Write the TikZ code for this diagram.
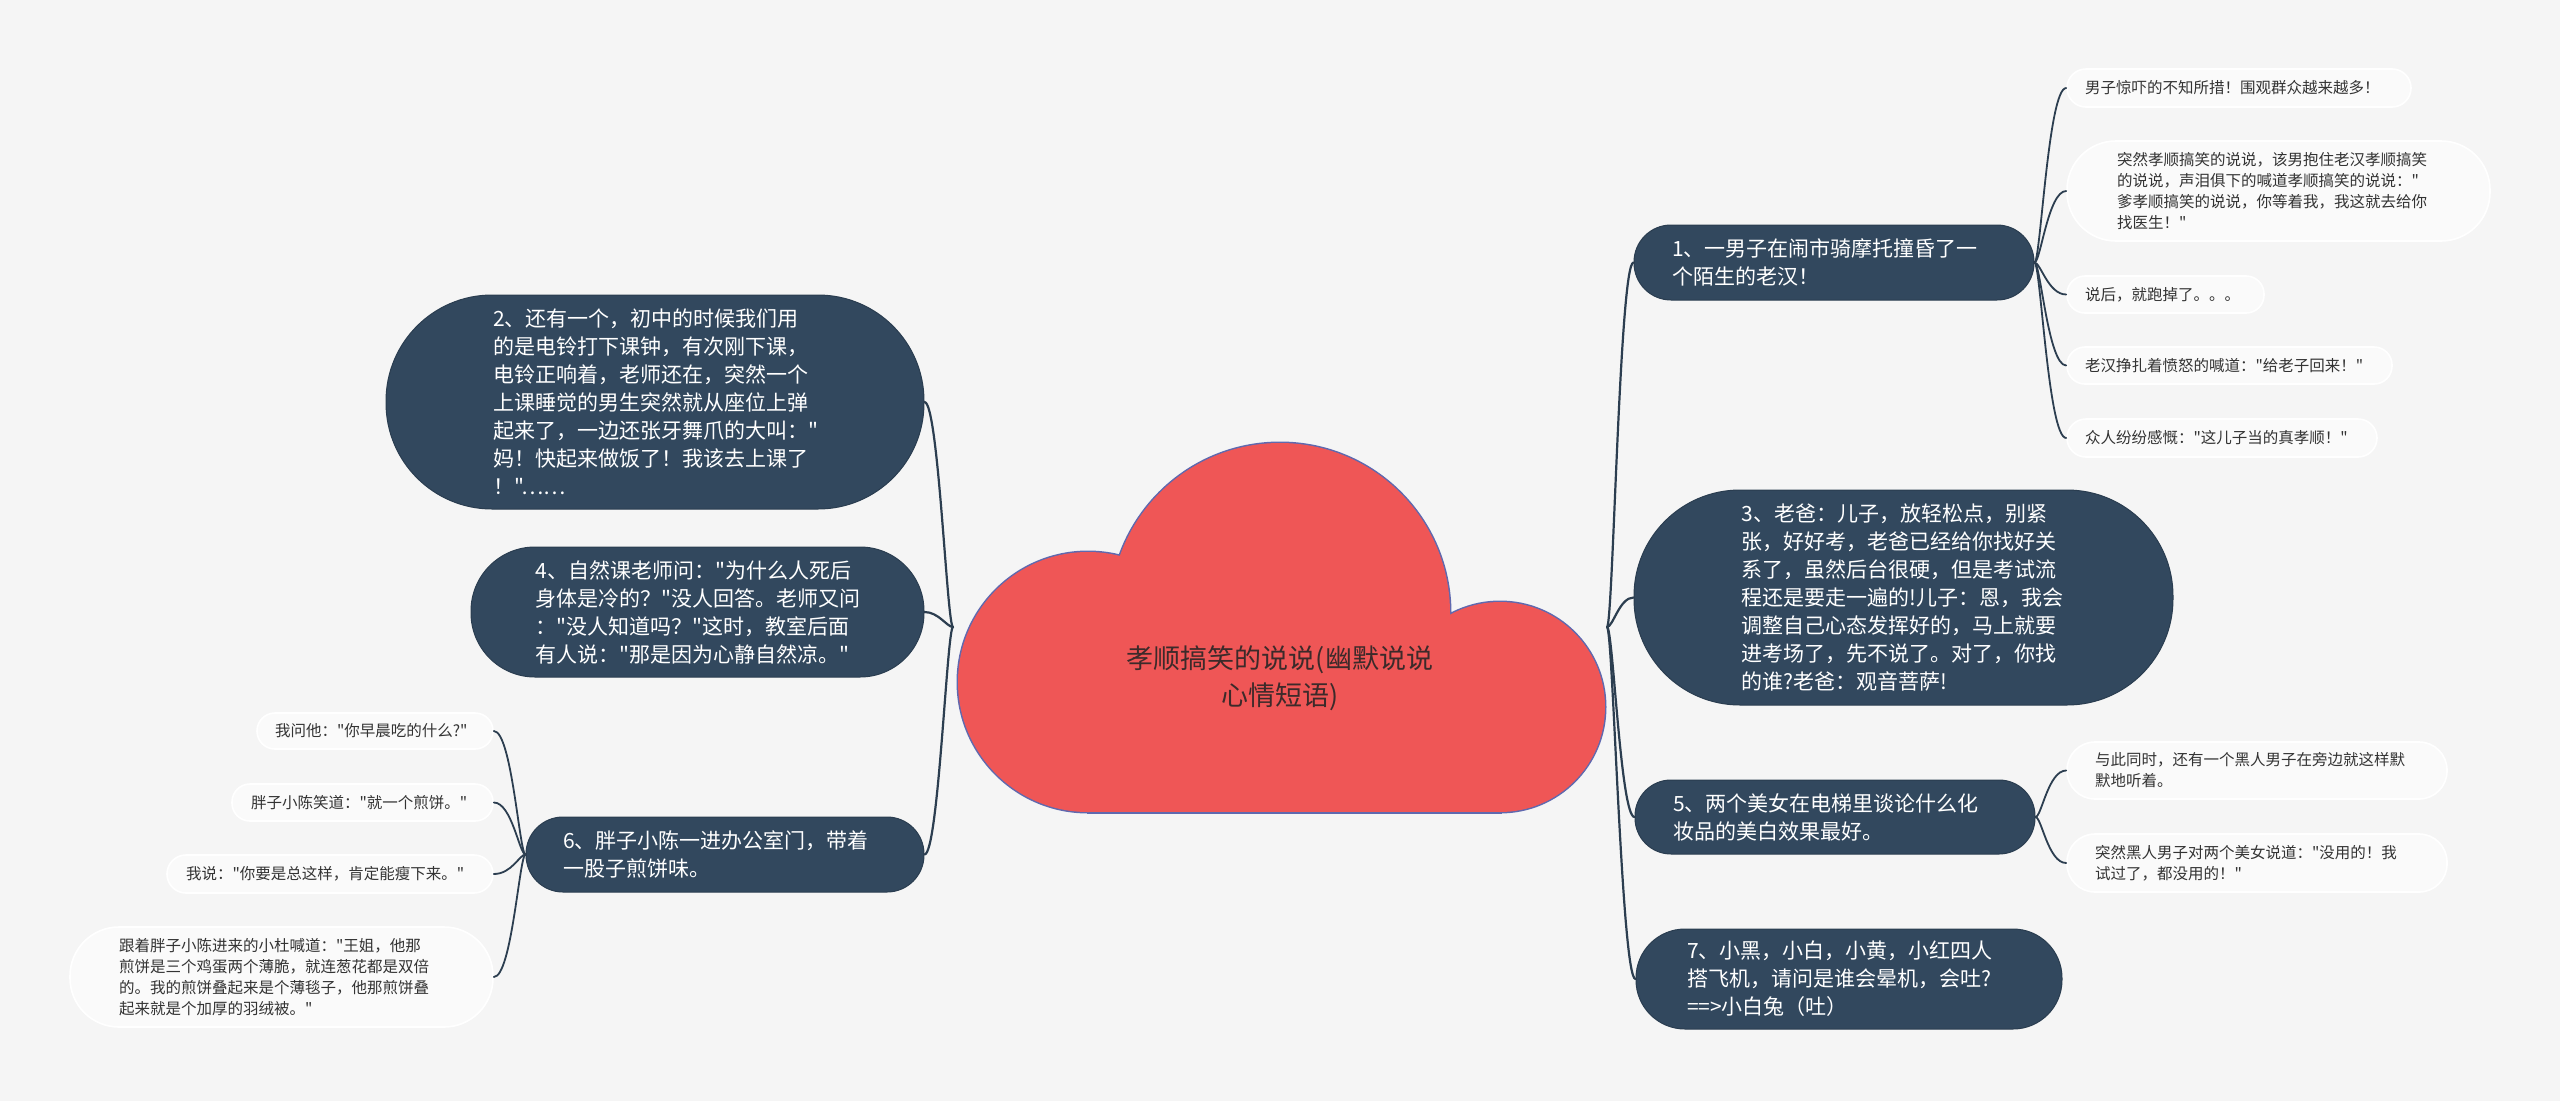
\documentclass[tikz,border=0pt]{standalone}
\usepackage{fontspec}
\newfontfamily\cjkfont{Noto Sans CJK SC}
\usetikzlibrary{calc}
\definecolor{bg}{RGB}{245,245,245}
\definecolor{nodefill}{RGB}{50,72,94}
\definecolor{cloudfill}{RGB}{239,86,86}
\definecolor{cloudline}{RGB}{95,105,175}
\definecolor{leaftext}{RGB}{51,51,51}
\definecolor{roottext}{RGB}{60,42,42}
\definecolor{conncol}{RGB}{44,62,80}
\begin{document}
\begin{tikzpicture}[x=1pt,y=-1pt,
  mainbox/.style={fill=nodefill, draw=nodefill!85!black, line width=1pt, text=white,
    font=\cjkfont\fontsize{21pt}{28pt}\selectfont, align=left, inner sep=0pt, text width=324pt},
  leafbox/.style={fill=bg!50!white, draw=white, line width=1.6pt, text=leaftext,
    font=\cjkfont\fontsize{15.5pt}{21pt}\selectfont, align=left, inner sep=0pt},
  conn/.style={draw=conncol, line width=2.2pt, line cap=round},
  leafconn/.style={draw=conncol, line width=1.8pt, line cap=round},
]
\useasboundingbox (0,0) rectangle (2560,1101);
\fill[bg] (0,0) rectangle (2560,1101);

% cloud (central topic)
\path[draw=cloudline, fill=cloudline, line width=3pt] (1088,682) circle[radius=130];
\path[draw=cloudline, fill=cloudline, line width=3pt] (1280,613) circle[radius=170];
\path[draw=cloudline, fill=cloudline, line width=3pt] (1500,707) circle[radius=105];
\path[draw=cloudline, fill=cloudline, line width=3pt] (1088,682) rectangle (1500,812);
\fill[cloudfill] (1088,682) circle[radius=130];
\fill[cloudfill] (1280,613) circle[radius=170];
\fill[cloudfill] (1500,707) circle[radius=105];
\fill[cloudfill] (1088,682) rectangle (1500,812);
\node[font=\cjkfont\fontsize{27pt}{37pt}\selectfont, text=roottext, align=center] (root) at (1280,678)
  {孝顺搞笑的说说(幽默说说\\心情短语)};

\coordinate (jr) at (1607,627);
\coordinate (jl) at (953,627);

% right main nodes
\node[mainbox, minimum width=400pt, minimum height=75pt, rounded corners=37pt] (n1) at (1834,262.5)
  {1、一男子在闹市骑摩托撞昏了一\\个陌生的老汉！};
\node[mainbox, minimum width=539pt, minimum height=215pt, rounded corners=106pt] (n3) at (1903.5,597.5)
  {3、老爸：儿子，放轻松点，别紧\\张，好好考，老爸已经给你找好关\\系了，虽然后台很硬，但是考试流\\程还是要走一遍的!儿子：恩，我会\\调整自己心态发挥好的，马上就要\\进考场了，先不说了。对了，你找\\的谁?老爸：观音菩萨!};
\node[mainbox, minimum width=400pt, minimum height=74pt, rounded corners=36pt] (n5) at (1835,817)
  {5、两个美女在电梯里谈论什么化\\妆品的美白效果最好。};
\node[mainbox, minimum width=426pt, minimum height=100pt, rounded corners=49pt] (n7) at (1849,979)
  {7、小黑，小白，小黄，小红四人\\搭飞机，请问是谁会晕机，会吐?\\==>小白兔（吐）};

% left main nodes
\node[mainbox, minimum width=538pt, minimum height=214pt, rounded corners=106pt] (n2) at (655,402)
  {2、还有一个，初中的时候我们用\\的是电铃打下课钟，有次刚下课，\\电铃正响着，老师还在，突然一个\\上课睡觉的男生突然就从座位上弹\\起来了，一边还张牙舞爪的大叫："\\妈！快起来做饭了！我该去上课了\\！"……};
\node[mainbox, minimum width=453pt, minimum height=130pt, rounded corners=64pt] (n4) at (697.5,612)
  {4、自然课老师问："为什么人死后\\身体是冷的？"没人回答。老师又问\\："没人知道吗？"这时，教室后面\\有人说："那是因为心静自然凉。"};
\node[mainbox, minimum width=398pt, minimum height=75pt, rounded corners=37pt] (n6) at (725,854.5)
  {6、胖子小陈一进办公室门，带着\\一股子煎饼味。};

% leaves of n1
\node[leafbox, minimum width=344pt, minimum height=38pt, rounded corners=19pt, text width=308pt] (l1a) at (2239,88)
  {男子惊吓的不知所措！围观群众越来越多！};
\node[leafbox, minimum width=423pt, minimum height=100pt, rounded corners=49pt, text width=323pt] (l1b) at (2278.5,191)
  {突然孝顺搞笑的说说，该男抱住老汉孝顺搞笑\\的说说，声泪俱下的喊道孝顺搞笑的说说："\\爹孝顺搞笑的说说，你等着我，我这就去给你\\找医生！"};
\node[leafbox, minimum width=197pt, minimum height=37pt, rounded corners=18pt, text width=161pt] (l1c) at (2165.5,294.5)
  {说后，就跑掉了。。。};
\node[leafbox, minimum width=325pt, minimum height=37pt, rounded corners=18pt, text width=289pt] (l1d) at (2229.5,365.5)
  {老汉挣扎着愤怒的喊道："给老子回来！"};
\node[leafbox, minimum width=310pt, minimum height=38pt, rounded corners=19pt, text width=274pt] (l1e) at (2222,438)
  {众人纷纷感慨："这儿子当的真孝顺！"};

% leaves of n5
\node[leafbox, minimum width=380pt, minimum height=57pt, rounded corners=28pt, text width=324pt] (l5a) at (2257,770.5)
  {与此同时，还有一个黑人男子在旁边就这样默\\默地听着。};
\node[leafbox, minimum width=380pt, minimum height=58pt, rounded corners=28pt, text width=324pt] (l5b) at (2257,863)
  {突然黑人男子对两个美女说道："没用的！我\\试过了，都没用的！"};

% leaves of n6
\node[leafbox, minimum width=236pt, minimum height=36pt, rounded corners=18pt, text width=200pt] (l6a) at (375,731)
  {我问他："你早晨吃的什么?"};
\node[leafbox, minimum width=261pt, minimum height=37pt, rounded corners=18pt, text width=223pt] (l6b) at (362.5,802.5)
  {胖子小陈笑道："就一个煎饼。"};
\node[leafbox, minimum width=326pt, minimum height=38pt, rounded corners=19pt, text width=288pt] (l6c) at (330,874)
  {我说："你要是总这样，肯定能瘦下来。"};
\node[leafbox, minimum width=423pt, minimum height=100pt, rounded corners=49pt, text width=325pt] (l6d) at (281.5,977)
  {跟着胖子小陈进来的小杜喊道："王姐，他那\\煎饼是三个鸡蛋两个薄脆，就连葱花都是双倍\\的。我的煎饼叠起来是个薄毯子，他那煎饼叠\\起来就是个加厚的羽绒被。"};

% connectors: root to main nodes
\foreach \n in {n1,n3,n5,n7}
  \draw[conn] (jr) .. controls ($(jr)+(6,0)$) and ($(\n.west)+(-14,0)$) .. (\n.west);
\foreach \n in {n2,n4,n6}
  \draw[conn] (jl) .. controls ($(jl)+(-6,0)$) and ($(\n.east)+(14,0)$) .. (\n.east);

% connectors: main nodes to leaves
\foreach \l in {l1a,l1b,l1c,l1d,l1e}
  \draw[leafconn] (n1.east) .. controls ($(n1.east)+(6,0)$) and ($(\l.west)+(-18,0)$) .. (\l.west);
\foreach \l in {l5a,l5b}
  \draw[leafconn] (n5.east) .. controls ($(n5.east)+(6,0)$) and ($(\l.west)+(-18,0)$) .. (\l.west);
\foreach \l in {l6a,l6b,l6c,l6d}
  \draw[leafconn] (n6.west) .. controls ($(n6.west)+(-6,0)$) and ($(\l.east)+(18,0)$) .. (\l.east);
\end{tikzpicture}
\end{document}
